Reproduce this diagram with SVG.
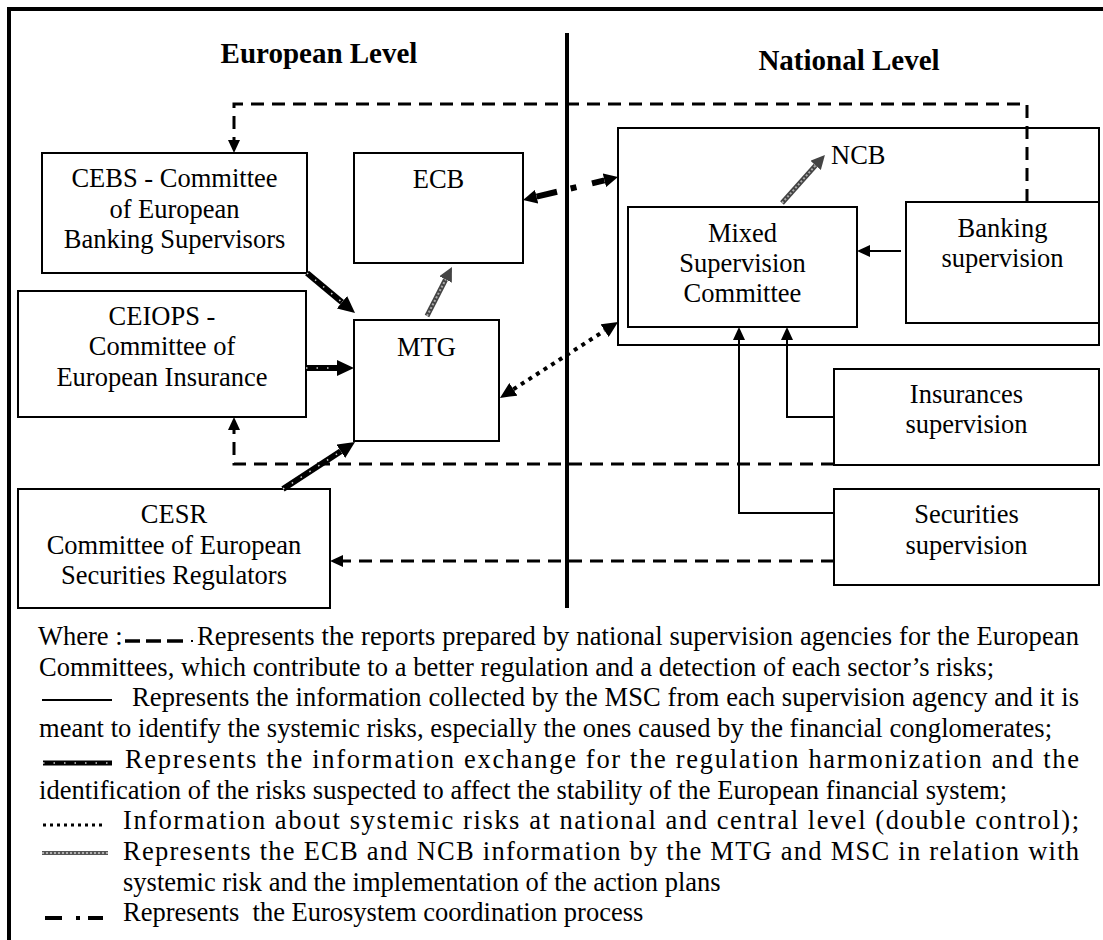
<svg xmlns="http://www.w3.org/2000/svg" width="1103" height="940" viewBox="0 0 1103 940">
<style>
text{font-family:"Liberation Serif","Times New Roman",serif;font-size:26.5px;fill:#000}
.t{font-weight:bold;font-size:29px;text-anchor:middle}
.c{text-anchor:middle}
.box{fill:#fff;stroke:#000;stroke-width:2}
.dash{fill:none;stroke:#000;stroke-width:3;stroke-dasharray:13 8}
.thin{fill:none;stroke:#000;stroke-width:2}
.thick{fill:none;stroke:#000;stroke-width:6}
.tdots{fill:none;stroke:#fff;stroke-width:1.5;stroke-dasharray:1.5 9;opacity:.8}
.grey{fill:none;stroke:#444;stroke-width:5}
.gdots{fill:none;stroke:#aaa;stroke-width:2;stroke-dasharray:2 2}
.dot{fill:none;stroke:#000;stroke-width:4;stroke-dasharray:4 5}
.dd{fill:none;stroke:#000;stroke-width:6;stroke-dasharray:21 14 6 16 30}
</style>
<defs>
<marker id="ah" markerUnits="userSpaceOnUse" viewBox="0 0 13 12" markerWidth="13" markerHeight="12" refX="0" refY="6" orient="auto"><path d="M0,0 L13,6 L0,12 z" fill="#000"/></marker>
<marker id="ahT" markerUnits="userSpaceOnUse" viewBox="0 0 17 16" markerWidth="17" markerHeight="16" refX="0" refY="8" orient="auto"><path d="M0,0 L17,8 L0,16 z" fill="#000"/></marker>
<marker id="ahG" markerUnits="userSpaceOnUse" viewBox="0 0 14 14" markerWidth="14" markerHeight="14" refX="0" refY="7" orient="auto"><path d="M0,0 L14,7 L0,14 z" fill="#444"/></marker>
<marker id="ahD" markerUnits="userSpaceOnUse" viewBox="0 0 14 14" markerWidth="14" markerHeight="14" refX="0" refY="7" orient="auto-start-reverse"><path d="M0,0 L14,7 L0,14 z" fill="#000"/></marker>
<marker id="ahP" markerUnits="userSpaceOnUse" viewBox="0 0 16 15" markerWidth="16" markerHeight="15" refX="0" refY="7.5" orient="auto-start-reverse"><path d="M0,0 L16,7.5 L0,15 z" fill="#000"/></marker>
</defs>
<rect width="1103" height="940" fill="#fff"/>
<path d="M9,945 V9 H1110" fill="none" stroke="#000" stroke-width="4"/>
<line x1="567" y1="33" x2="567" y2="608" stroke="#000" stroke-width="4"/>
<text class="t" x="319" y="63">European Level</text>
<text class="t" x="849" y="70">National Level</text>

<g id="national-level">
<rect class="box" x="618" y="128" width="481" height="217"/>
<text x="831" y="164">NCB</text>
</g>
<g id="cebs">
<rect class="box" x="42" y="153" width="265" height="120"/>
<text class="c" x="174.5" y="187">CEBS - Committee</text>
<text class="c" x="174.5" y="218">of European</text>
<text class="c" x="174.5" y="248">Banking Supervisors</text>
</g>
<g id="ecb">
<rect class="box" x="354" y="153" width="169" height="110"/>
<text class="c" x="438.5" y="188">ECB</text>
</g>
<g id="ceiops">
<rect class="box" x="18" y="291" width="288" height="126"/>
<text class="c" x="162" y="325">CEIOPS -</text>
<text class="c" x="162" y="355">Committee of</text>
<text class="c" x="162" y="386">European Insurance</text>
</g>
<g id="mtg">
<rect class="box" x="354" y="320" width="145" height="121"/>
<text class="c" x="426.5" y="356">MTG</text>
</g>
<g id="cesr">
<rect class="box" x="18" y="489" width="312" height="119"/>
<text class="c" x="174" y="523">CESR</text>
<text class="c" x="174" y="554">Committee of European</text>
<text class="c" x="174" y="584">Securities Regulators</text>
</g>
<g id="msc">
<rect class="box" x="628" y="207" width="229" height="120"/>
<text class="c" x="742.5" y="242">Mixed</text>
<text class="c" x="742.5" y="272">Supervision</text>
<text class="c" x="742.5" y="302">Committee</text>
</g>
<g id="banking">
<rect class="box" x="906" y="202" width="193" height="121"/>
<text class="c" x="1002.5" y="237">Banking</text>
<text class="c" x="1002.5" y="267">supervision</text>
</g>
<g id="insurances">
<rect class="box" x="834" y="369" width="265" height="96"/>
<text class="c" x="966.5" y="403">Insurances</text>
<text class="c" x="966.5" y="433">supervision</text>
</g>
<g id="securities">
<rect class="box" x="834" y="489" width="265" height="96"/>
<text class="c" x="966.5" y="523">Securities</text>
<text class="c" x="966.5" y="554">supervision</text>
</g>

<g id="connectors">
<path class="dash" d="M1027,202 V104 H234 V140" marker-end="url(#ah)"/>
<path class="dash" d="M834,464 H234 V430" marker-end="url(#ah)"/>
<path class="dash" d="M834,561 H343" marker-end="url(#ah)"/>
<path class="thin" d="M901,251 H870" marker-end="url(#ah)"/>
<path class="thin" d="M834,417 H787 V340" marker-end="url(#ah)"/>
<path class="thin" d="M834,513 H739 V340" marker-end="url(#ah)"/>
<path class="thick" d="M307,273 L342,302.2" marker-end="url(#ahT)"/>
<path class="tdots" d="M307,273 L342,302.2"/>
<path class="thick" d="M306,368 H337" marker-end="url(#ahT)"/>
<path class="tdots" d="M306,368 H337"/>
<path class="thick" d="M283,489 L340.8,451.3" marker-end="url(#ahT)"/>
<path class="tdots" d="M283,489 L340.8,451.3"/>
<path class="grey" d="M427,316 L445.6,279.5" marker-end="url(#ahG)"/>
<path class="gdots" d="M427,316 L445.6,279.5"/>
<path class="grey" d="M782,203 L815.6,165.4" marker-end="url(#ahG)"/>
<path class="gdots" d="M782,203 L815.6,165.4"/>
<path class="dd" d="M536.6,196.7 L604.4,180.3" marker-start="url(#ahD)" marker-end="url(#ahD)"/>
<path class="dot" d="M513.4,389.3 L604.6,330.7" marker-start="url(#ahP)" marker-end="url(#ahP)"/>
</g>

<g id="legend">
<text x="38" y="645">Where :</text>
<line x1="125" y1="641" x2="140" y2="641" stroke="#000" stroke-width="3.5"/>
<line x1="146" y1="641" x2="161" y2="641" stroke="#000" stroke-width="3.5"/>
<line x1="167" y1="641" x2="183" y2="641" stroke="#000" stroke-width="3.5"/>
<rect x="191" y="640" width="2" height="2" fill="#000"/>
<text x="197" y="645" textLength="882" lengthAdjust="spacing">Represents the reports prepared by national supervision agencies for the European</text>
<text x="39" y="675.7" textLength="955" lengthAdjust="spacing">Committees, which contribute to a better regulation and a detection of each sector’s risks;</text>
<line x1="42" y1="700" x2="112" y2="700" stroke="#000" stroke-width="2"/>
<text x="132" y="706.4" textLength="947" lengthAdjust="spacing">Represents the information collected by the MSC from each supervision agency and it is</text>
<text x="39" y="737.1" textLength="1013" lengthAdjust="spacing">meant to identify the systemic risks, especially the ones caused by the financial conglomerates;</text>
<line x1="43" y1="763" x2="112" y2="763" stroke="#000" stroke-width="5"/>
<line x1="43" y1="763" x2="112" y2="763" class="tdots"/>
<text x="125" y="767.8" textLength="954" lengthAdjust="spacing">Represents the information exchange for the regulation harmonization and the</text>
<text x="39" y="798.5" textLength="968" lengthAdjust="spacing">identification of the risks suspected to affect the stability of the European financial system;</text>
<line x1="43" y1="825" x2="102" y2="825" stroke="#000" stroke-width="3" stroke-dasharray="3 4"/>
<text x="123" y="829.2" textLength="956" lengthAdjust="spacing">Information about systemic risks at national and central level (double control);</text>
<line x1="42" y1="853" x2="108" y2="853" stroke="#555" stroke-width="4"/>
<line x1="42" y1="853" x2="108" y2="853" stroke="#ccc" stroke-width="1.5" stroke-dasharray="2 2"/>
<text x="123" y="859.9" textLength="956" lengthAdjust="spacing">Represents the ECB and NCB information by the MTG and MSC in relation with</text>
<text x="123" y="890.6">systemic risk and the implementation of the action plans</text>
<line x1="45" y1="918" x2="62" y2="918" stroke="#000" stroke-width="4"/>
<line x1="76" y1="918" x2="80" y2="918" stroke="#000" stroke-width="4"/>
<line x1="88" y1="918" x2="103" y2="918" stroke="#000" stroke-width="4"/>
<text x="123" y="921.3" xml:space="preserve">Represents  the Eurosystem coordination process</text>
</g>
</svg>
